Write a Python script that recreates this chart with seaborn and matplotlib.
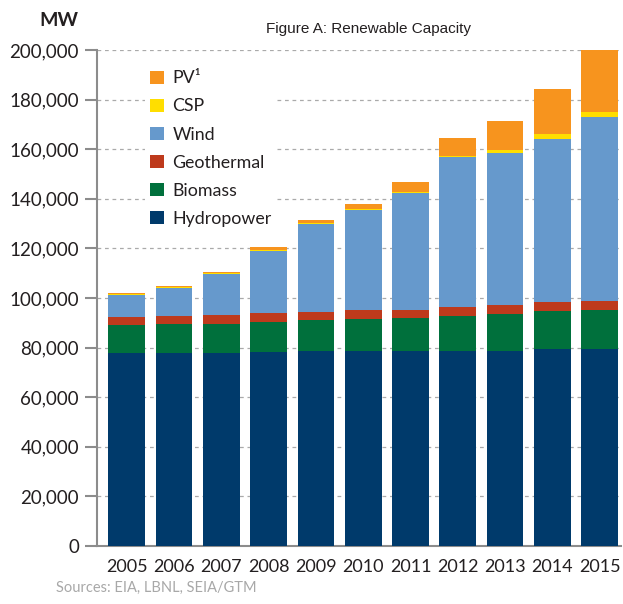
import matplotlib
matplotlib.use("Agg")
import matplotlib.pyplot as plt
import seaborn as sns
import pandas as pd
import numpy as np
from matplotlib.patches import Patch

years = ["2005", "2006", "2007", "2008", "2009", "2010", "2011", "2012", "2013", "2014", "2015"]
hydropower = [77.7, 77.7, 77.8, 78.2, 78.5, 78.8, 78.6, 78.6, 78.8, 79.3, 79.4]
biomass = [11.4, 11.8, 11.8, 12.2, 12.8, 12.7, 13.2, 14.1, 14.7, 15.3, 15.8]
geothermal = [3.1, 3.1, 3.4, 3.4, 3.2, 3.7, 3.5, 3.7, 3.8, 3.8, 3.7]
wind = [9.0, 11.6, 16.5, 25.1, 35.2, 40.3, 46.9, 60.3, 61.3, 65.8, 74.1]
csp = [0.4, 0.4, 0.4, 0.4, 0.4, 0.5, 0.5, 0.6, 1.1, 1.9, 1.9]
pv = [0.4, 0.4, 0.6, 1.1, 1.4, 1.9, 3.9, 7.1, 11.8, 18.2, 25.1]

series_names = ["Hydropower", "Biomass", "Geothermal", "Wind", "CSP", "PV\u00b9"]
series_values = [hydropower, biomass, geothermal, wind, csp, pv]
colors = ["#003A6B", "#00703C", "#BE3A1C", "#6699CC", "#FFDE00", "#F7941E"]

sns.set_style("white")
plt.rcParams["font.family"] = ["Lato", "DejaVu Sans"]

fig = plt.figure(figsize=(6.23, 6.04), dpi=100)
ax = fig.add_axes([97 / 623, 58 / 604, (621 - 97) / 623, (546 - 50) / 604])

# cumulative stacks (in MW)
cum = np.cumsum(np.array(series_values) * 1000.0, axis=0)
df = pd.DataFrame({"year": years})
for i in range(len(series_names) - 1, -1, -1):
    df["v"] = cum[i]
    sns.barplot(data=df, x="year", y="v", color=colors[i], saturation=1,
                width=0.776, errorbar=None, ax=ax, zorder=3, linewidth=0)

ax.set_ylim(0, 200000)
ax.set_xlim(-0.63, 10.45)
ax.set_yticks(np.arange(0, 200001, 20000))
ax.set_yticklabels([f"{int(v):,}" for v in np.arange(0, 200001, 20000)])
ax.yaxis.grid(True, linestyle=(0, (3, 3)), color="#AAAAAA", linewidth=0.9, zorder=0)
ax.xaxis.grid(False)
ax.set_axisbelow(True)
ax.set_xlabel("")
ax.set_ylabel("")

for s in ["top", "right"]:
    ax.spines[s].set_visible(False)
for s in ["left", "bottom"]:
    ax.spines[s].set_color("#8C8C8C")
    ax.spines[s].set_linewidth(1.5)

ax.tick_params(axis="y", left=True, length=9, width=1.5, color="#8C8C8C",
               labelsize=13.5, labelcolor="#231F20", pad=4)
ax.tick_params(axis="x", bottom=False, labelsize=13, labelcolor="#231F20", pad=6)

handles = [Patch(facecolor=colors[i], edgecolor="none") for i in range(len(series_names) - 1, -1, -1)]
labels = [series_names[i] for i in range(len(series_names) - 1, -1, -1)]
leg = ax.legend(handles, labels, loc="upper left", bbox_to_anchor=(145 / 623, 1 - 65 / 604),
                bbox_transform=fig.transFigure, frameon=True, fontsize=12.8,
                handlelength=0.75, handleheight=0.75, handletextpad=0.5,
                labelspacing=0.68, borderpad=0.3, borderaxespad=0)
leg.get_frame().set_facecolor("white")
leg.get_frame().set_edgecolor("none")
leg.get_frame().set_alpha(1)
for t in leg.get_texts():
    t.set_color("#231F20")

fig.text(59 / 623, 1 - 21 / 604, "MW", ha="center", va="center", fontsize=14,
         fontweight="bold", color="#231F20")
fig.text(368 / 623, 1 - 29 / 604, "Figure A: Renewable Capacity", ha="center", va="center",
         fontsize=11, color="#231F20", family=["Liberation Sans", "DejaVu Sans"])
fig.text(56 / 623, 1 - 588 / 604, "Sources: EIA, LBNL, SEIA/GTM", ha="left", va="center",
         fontsize=10.5, color="#A8A8A8")

fig.savefig("out.png", dpi=100)
